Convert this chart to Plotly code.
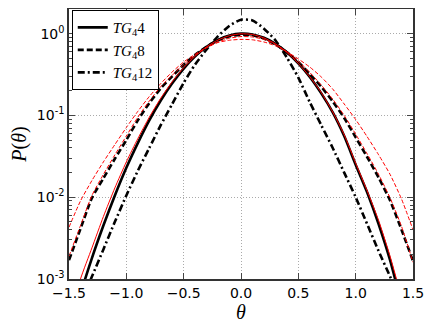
import plotly.graph_objects as go

# theta grid shared by the curves
theta = [-1.5, -1.4, -1.3, -1.2, -1.1, -1.0, -0.9, -0.8, -0.7, -0.6, -0.5, -0.4, -0.3, -0.2, -0.1,
         0.0, 0.1, 0.2, 0.3, 0.4, 0.5, 0.6, 0.7, 0.8, 0.9, 1.0, 1.1, 1.2, 1.3, 1.4, 1.5]

# black curves (simulation)
p_tg4 = [0.0002, 0.00065, 0.0018, 0.0045, 0.0105, 0.0229, 0.0459, 0.087, 0.152, 0.247, 0.374, 0.527, 0.69, 0.84, 0.95,
         1.0, 0.977, 0.889, 0.752, 0.59, 0.432, 0.295, 0.186, 0.109, 0.056, 0.025, 0.0115, 0.0047, 0.0017, 0.0005, 0.00015]
p_tg8 = [0.0017, 0.0041, 0.0098, 0.017, 0.0295, 0.050, 0.087, 0.141, 0.214, 0.30, 0.417, 0.55, 0.69, 0.83, 0.93,
         0.965, 0.955, 0.87, 0.74, 0.59, 0.45, 0.32, 0.224, 0.148, 0.093, 0.054, 0.031, 0.0174, 0.0091, 0.004, 0.00166]
p_tg12 = [0.0002, 0.0005, 0.00107, 0.0023, 0.005, 0.0105, 0.021, 0.040, 0.076, 0.138, 0.25, 0.42, 0.64, 0.93, 1.25,
          1.48, 1.45, 1.15, 0.83, 0.51, 0.29, 0.145, 0.076, 0.040, 0.020, 0.010, 0.0047, 0.0022, 0.00107, 0.0005, 0.0002]

# red curves (fits)
r_tg4 = [0.0003, 0.001, 0.0024, 0.0058, 0.013, 0.027, 0.052, 0.095, 0.162, 0.258, 0.383, 0.53, 0.69, 0.835, 0.945,
         0.995, 0.975, 0.885, 0.75, 0.59, 0.432, 0.297, 0.19, 0.11, 0.058, 0.026, 0.012, 0.0052, 0.0019, 0.0006, 0.0002]
r_tg8 = [0.0019, 0.0045, 0.0105, 0.019, 0.033, 0.056, 0.095, 0.15, 0.225, 0.31, 0.42, 0.545, 0.67, 0.79, 0.88,
         0.92, 0.91, 0.85, 0.74, 0.6, 0.46, 0.335, 0.235, 0.158, 0.1, 0.059, 0.034, 0.019, 0.0098, 0.0044, 0.0016]
r_tg12 = [0.0043, 0.009, 0.016, 0.027, 0.044, 0.071, 0.112, 0.17, 0.245, 0.34, 0.45, 0.56, 0.68, 0.78, 0.83,
          0.85, 0.84, 0.79, 0.71, 0.60, 0.49, 0.39, 0.295, 0.21, 0.138, 0.089, 0.055, 0.033, 0.019, 0.0095, 0.004]

legend_names = ["<i>TG</i><sub>4</sub>4", "<i>TG</i><sub>4</sub>8", "<i>TG</i><sub>4</sub>12"]

x_ticks = [-1.5, -1.0, -0.5, 0.0, 0.5, 1.0, 1.5]
y_ticks = [0.001, 0.01, 0.1, 1]
y_ticktext = ["10<sup>-3</sup>", "10<sup>-2</sup>", "10<sup>-1</sup>", "10<sup>0</sup>"]
y_minor = [m * 10 ** e for e in range(-3, 1) for m in range(2, 10)]

fig = go.Figure()

black_styles = [
    dict(color="black", width=2.6, dash="solid"),
    dict(color="black", width=2.6, dash="6px,3px"),
    dict(color="black", width=2.6, dash="7px,3px,2px,3px"),
]
for p, name, style in zip([p_tg4, p_tg8, p_tg12], legend_names, black_styles):
    fig.add_trace(go.Scatter(x=theta, y=p, mode="lines", name=name,
                             line=dict(shape="spline", smoothing=0.6, **style)))

red_styles = [
    dict(color="red", width=1, dash="solid"),
    dict(color="red", width=1, dash="4px,2px"),
    dict(color="red", width=1, dash="4px,2px"),
]
for r, style in zip([r_tg4, r_tg8, r_tg12], red_styles):
    fig.add_trace(go.Scatter(x=theta, y=r, mode="lines", showlegend=False,
                             line=dict(shape="spline", smoothing=0.6, **style)))

# page body adds an 8px offset, so the figure is 8px smaller on each axis
fig.update_layout(
    width=428, height=319,
    margin=dict(l=61, r=23, t=1, b=48, autoexpand=False),
    paper_bgcolor="white", plot_bgcolor="white",
    font=dict(family="DejaVu Sans", size=14, color="black"),
    legend=dict(
        x=0.008, y=0.996, xanchor="left", yanchor="top",
        bgcolor="white", bordercolor="black", borderwidth=1,
        font=dict(family="Liberation Serif", size=15),
        itemwidth=30, tracegroupgap=0,
    ),
)

fig.update_xaxes(
    range=[-1.5, 1.5], tickvals=x_ticks, tickformat=".1f",
    ticks="inside", ticklen=6, mirror="allticks", automargin=False,
    showline=True, linecolor="#333", linewidth=1.5,
    showgrid=True, gridcolor="#aaaaaa", griddash="1px,2px", gridwidth=1,
    zeroline=False,
    title=dict(text="<i>θ</i>", font=dict(family="Liberation Serif", size=20), standoff=3),
)
fig.update_yaxes(
    type="log", range=[-3, 0.301],
    tickvals=y_ticks, ticktext=y_ticktext,
    ticks="inside", ticklen=6, mirror="allticks", automargin=False,
    minor=dict(tickvals=y_minor, ticks="inside", ticklen=3, showgrid=False),
    showline=True, linecolor="#333", linewidth=1.5,
    showgrid=True, gridcolor="#aaaaaa", griddash="1px,2px", gridwidth=1,
    zeroline=False,
    title=dict(text="<i>P</i>(<i>θ</i>)", font=dict(family="Liberation Serif", size=20), standoff=8),
)

fig.write_html("out.html")
